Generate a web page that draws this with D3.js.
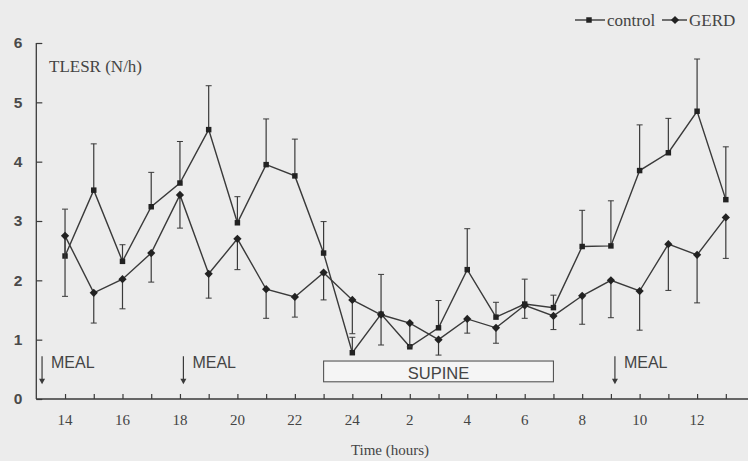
<!DOCTYPE html>
<html>
<head>
<meta charset="utf-8">
<script src="https://cdn.jsdelivr.net/npm/d3@7"></script>
<style>
  body { margin: 0; background: #ececec; }
  #chart svg { display: block; }
</style>
</head>
<body>
<div id="chart"></div>
<script>
// hour of the clock for each point (14:00 through 13:00 next day)
const hours = [14, 15, 16, 17, 18, 19, 20, 21, 22, 23, 24, 1, 2, 3, 4, 5, 6, 7, 8, 9, 10, 11, 12, 13];
const control = [2.41, 3.52, 2.32, 3.24, 3.64, 4.54, 2.97, 3.95, 3.76, 2.46, 0.78, 1.43, 0.88, 1.2, 2.18, 1.38, 1.6, 1.54, 2.57, 2.58, 3.85, 4.15, 4.85, 3.36];
const controlErr = [0.79, 0.78, 0.28, 0.58, 0.7, 0.74, 0.44, 0.77, 0.62, 0.53, 0.26, 0.67, 0, 0.46, 0.69, 0.25, 0.42, 0.21, 0.61, 0.76, 0.77, 0.58, 0.88, 0.89];
const gerd = [2.75, 1.79, 2.02, 2.46, 3.44, 2.11, 2.7, 1.85, 1.72, 2.13, 1.67, 1.42, 1.28, 1.0, 1.35, 1.2, 1.58, 1.4, 1.74, 2.0, 1.82, 2.61, 2.43, 3.06];
const gerdErr = [1.02, 0.51, 0.5, 0.49, 0.56, 0.41, 0.52, 0.49, 0.34, 0.46, 0.57, 0.51, 0.4, 0.26, 0.24, 0.26, 0.22, 0.23, 0.48, 0.63, 0.66, 0.78, 0.81, 0.69];
const yTicks = [0, 1, 2, 3, 4, 5, 6];
const mealAt = [13.2, 18.12, 33.14];
const supine = [23, 31];

const width = 748, height = 461;
const ink = "#3a3a3a";

// continuous hour position, so 1..13 of the next day become 25..37
const pos = i => 14 + i;

const x = d3.scaleLinear().domain([13, 38]).range([36.3, 36.3 + 25 * 28.73]);
const y = d3.scaleLinear().domain([0, 6]).range([399, 43]);

const svg = d3.select("#chart").append("svg")
  .attr("width", width).attr("height", height);

svg.append("rect").attr("width", width).attr("height", height).attr("fill", "#ececec");

// axes
const xAxis = d3.axisBottom(x)
  .tickValues(d3.range(14, 38))
  .tickSize(-5)
  .tickFormat(() => "");
svg.append("g").attr("transform", `translate(0,${y(0)})`).call(xAxis)
  .call(g => g.select(".domain").attr("stroke", ink).attr("stroke-width", 1.3).attr("d", `M${x(13)},0H${width}`))
  .call(g => g.selectAll(".tick line").attr("stroke", ink).attr("stroke-width", 1.2));

const labelled = hours.map((h, i) => ({ h, p: pos(i) })).filter(d => d.h % 2 === 0);
svg.append("g").selectAll("text").data(labelled).join("text")
  .attr("x", d => x(d.p)).attr("y", 425)
  .attr("text-anchor", "middle")
  .attr("font-family", "Liberation Serif, Times New Roman, serif")
  .attr("font-size", 15).attr("fill", "#444")
  .text(d => d.h);

const yAxis = d3.axisLeft(y).tickValues(yTicks).tickSize(-6).tickPadding(14).tickFormat(d3.format("d"));
svg.append("g").attr("transform", `translate(${x(13)},0)`).call(yAxis)
  .call(g => g.select(".domain").attr("stroke", ink).attr("stroke-width", 1.3).attr("d", `M0,${y(6)}V${y(0)}`))
  .call(g => g.selectAll(".tick line").attr("stroke", ink).attr("stroke-width", 1.2))
  .call(g => g.selectAll(".tick text")
    .attr("font-family", "Liberation Sans, Arial, sans-serif")
    .attr("font-size", 15.5).attr("font-weight", "bold").attr("fill", "#4a4a4a"));

svg.append("text").attr("x", 49).attr("y", 72)
  .attr("font-family", "Liberation Serif, Times New Roman, serif")
  .attr("font-size", 17).attr("fill", "#444")
  .text("TLESR (N/h)");

svg.append("text").attr("x", 390).attr("y", 455)
  .attr("text-anchor", "middle")
  .attr("font-family", "Liberation Serif, Times New Roman, serif")
  .attr("font-size", 15).attr("fill", "#444")
  .text("Time (hours)");

// supine box
svg.append("rect")
  .attr("x", x(supine[0])).attr("y", y(0.64))
  .attr("width", x(supine[1]) - x(supine[0])).attr("height", y(0.29) - y(0.64))
  .attr("fill", "#f5f5f5").attr("stroke", "#555").attr("stroke-width", 1.1);
svg.append("text")
  .attr("x", (x(supine[0]) + x(supine[1])) / 2).attr("y", y(0.33))
  .attr("text-anchor", "middle")
  .attr("font-family", "Liberation Sans, Arial, sans-serif")
  .attr("font-size", 16.5).attr("fill", "#444")
  .text("SUPINE");

// meal arrows
const meal = svg.append("g").selectAll("g").data(mealAt).join("g");
meal.append("line")
  .attr("x1", d => x(d)).attr("x2", d => x(d))
  .attr("y1", y(0.72)).attr("y2", y(0.3))
  .attr("stroke", ink).attr("stroke-width", 1.2);
meal.append("path")
  .attr("d", d => `M${x(d) - 3},${y(0.34)}L${x(d) + 3},${y(0.34)}L${x(d)},${y(0.25)}Z`)
  .attr("fill", ink);
meal.append("text")
  .attr("x", d => x(d) + 9).attr("y", y(0.53))
  .attr("font-family", "Liberation Sans, Arial, sans-serif")
  .attr("font-size", 16).attr("fill", "#444")
  .text("MEAL");

// series: control = small square, GERD = square turned 45 degrees
const series = [
  { name: "control", values: control, err: controlErr, dir: 1, size: 30, rot: 0 },
  { name: "GERD", values: gerd, err: gerdErr, dir: -1, size: 34, rot: 45 }
];

const line = d3.line().x((d, i) => x(pos(i))).y(d => y(d));

series.forEach(s => {
  const g = svg.append("g");
  // error bars: control upward, GERD downward
  const bars = g.selectAll("g.err").data(s.values.map((v, i) => ({ v, e: s.err[i], i })).filter(d => d.e > 0))
    .join("g").attr("class", "err");
  bars.append("line")
    .attr("x1", d => x(pos(d.i))).attr("x2", d => x(pos(d.i)))
    .attr("y1", d => y(d.v)).attr("y2", d => y(d.v + s.dir * d.e))
    .attr("stroke", ink).attr("stroke-width", 1.2);
  bars.append("line")
    .attr("x1", d => x(pos(d.i)) - 3).attr("x2", d => x(pos(d.i)) + 3)
    .attr("y1", d => y(d.v + s.dir * d.e)).attr("y2", d => y(d.v + s.dir * d.e))
    .attr("stroke", ink).attr("stroke-width", 1);
  g.append("path").datum(s.values)
    .attr("d", line).attr("fill", "none")
    .attr("stroke", ink).attr("stroke-width", 1.4);
  g.selectAll("path.mark").data(s.values).join("path").attr("class", "mark")
    .attr("transform", (d, i) => `translate(${x(pos(i))},${y(d)}) rotate(${s.rot})`)
    .attr("d", d3.symbol().type(d3.symbolSquare).size(s.size))
    .attr("fill", "#222");
});

// legend
const legend = svg.append("g").selectAll("g").data(series).join("g")
  .attr("transform", (d, i) => `translate(${i === 0 ? 575 : 662},20)`);
legend.append("line").attr("x1", 0).attr("x2", (d, i) => i === 0 ? 30 : 25)
  .attr("stroke", ink).attr("stroke-width", 1.4);
legend.append("path")
  .attr("transform", (d, i) => `translate(${i === 0 ? 14 : 13},0) rotate(${d.rot})`)
  .attr("d", d => d3.symbol().type(d3.symbolSquare).size(d.size)())
  .attr("fill", "#222");
legend.append("text")
  .attr("x", (d, i) => i === 0 ? 32 : 27).attr("y", 5.5)
  .attr("font-family", "Liberation Serif, Times New Roman, serif")
  .attr("font-size", 17).attr("fill", "#444")
  .text(d => d.name);
</script>
</body>
</html>
